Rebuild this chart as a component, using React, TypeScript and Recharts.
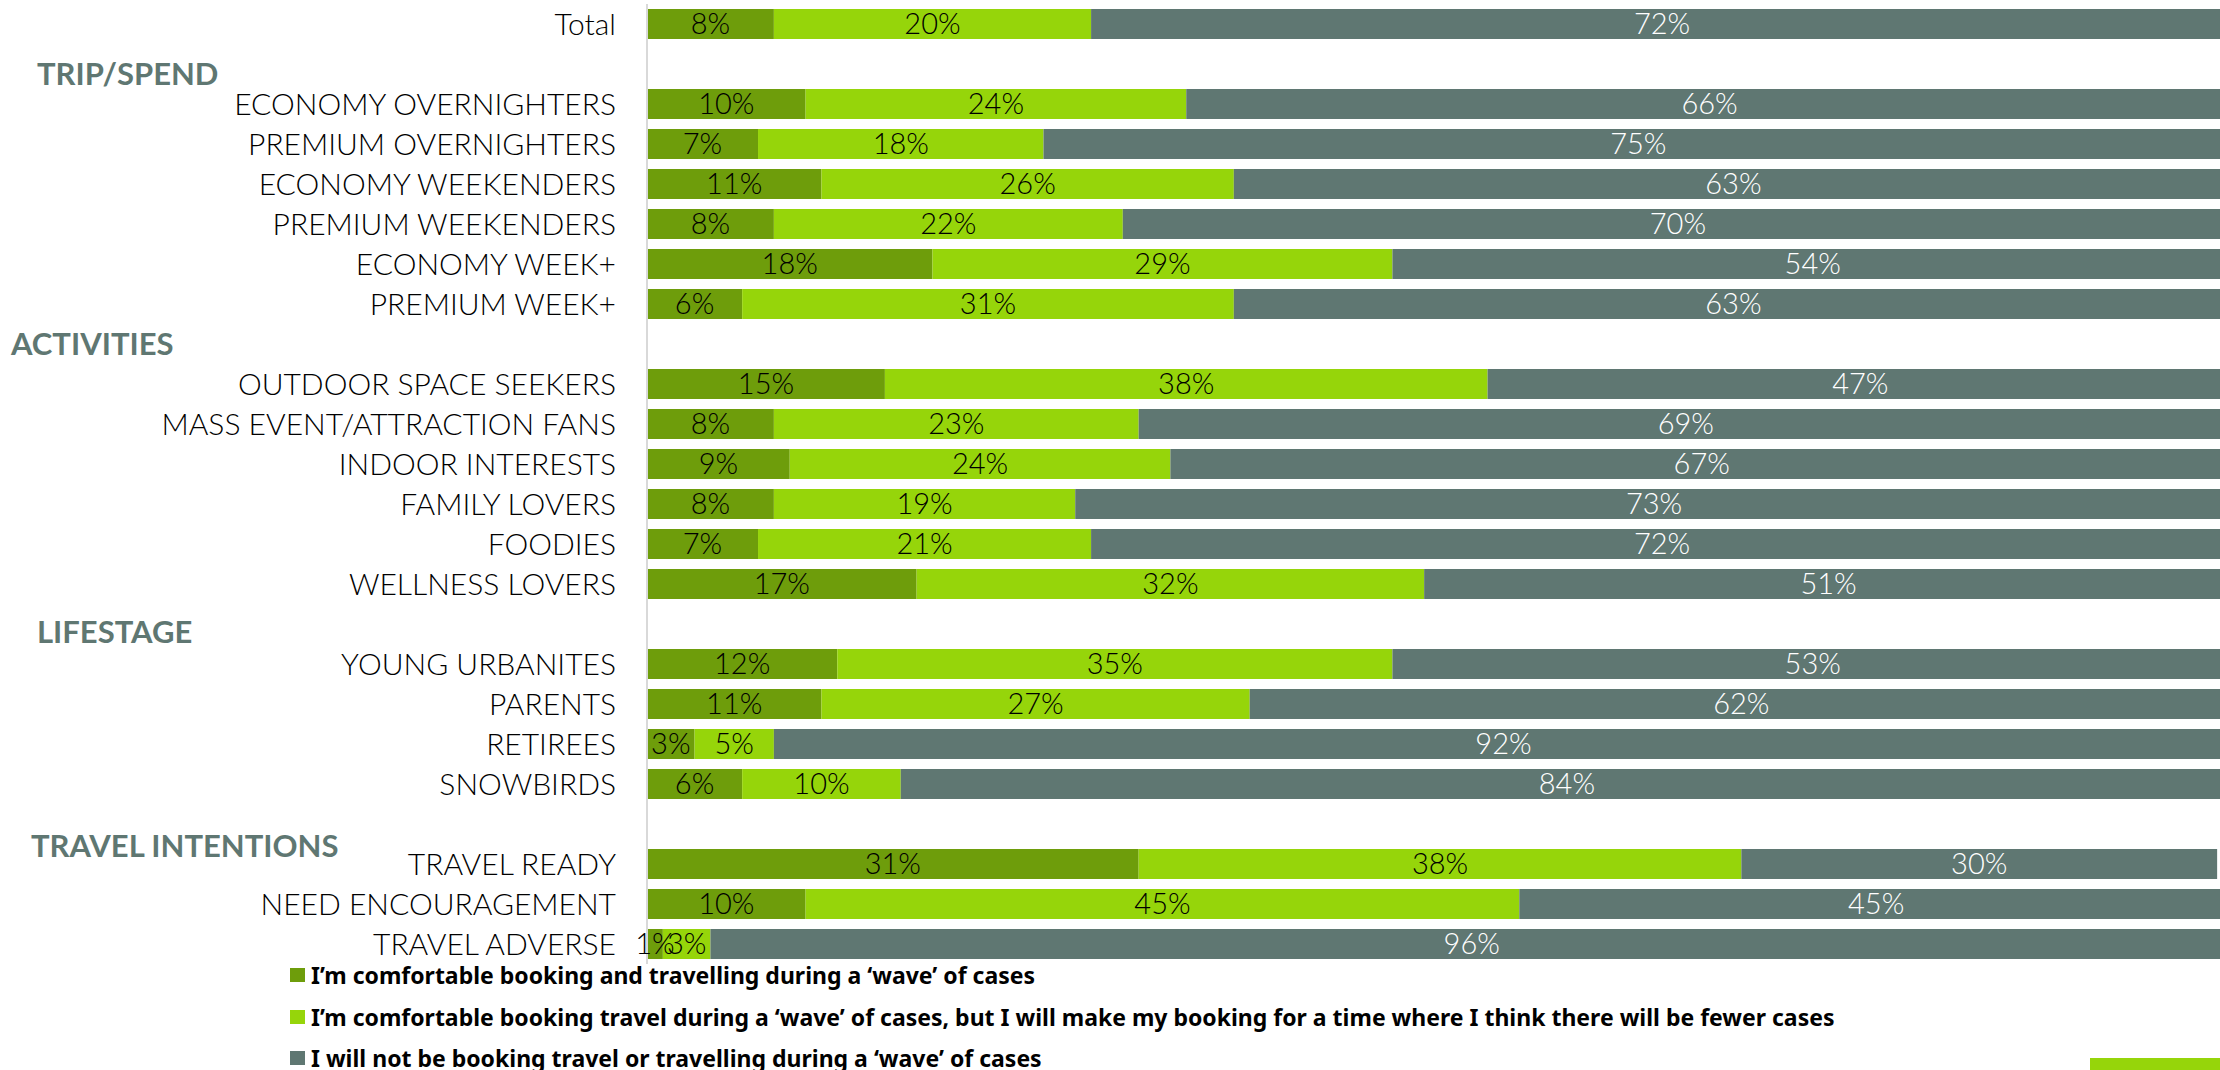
import { Bar, BarChart, LabelList, Legend, XAxis, YAxis } from 'recharts';

const categories = [
  'Total',
  'TRIP/SPEND',
  'ECONOMY OVERNIGHTERS',
  'PREMIUM OVERNIGHTERS',
  'ECONOMY WEEKENDERS',
  'PREMIUM WEEKENDERS',
  'ECONOMY WEEK+',
  'PREMIUM WEEK+',
  'ACTIVITIES',
  'OUTDOOR SPACE SEEKERS',
  'MASS EVENT/ATTRACTION FANS',
  'INDOOR INTERESTS',
  'FAMILY LOVERS',
  'FOODIES',
  'WELLNESS LOVERS',
  'LIFESTAGE',
  'YOUNG URBANITES',
  'PARENTS',
  'RETIREES',
  'SNOWBIRDS',
  'TRAVEL INTENTIONS',
  'TRAVEL READY',
  'NEED ENCOURAGEMENT',
  'TRAVEL ADVERSE',
];

const headings = ['TRIP/SPEND', 'ACTIVITIES', 'LIFESTAGE', 'TRAVEL INTENTIONS'];

const comfortableNow = [8, null, 10, 7, 11, 8, 18, 6, null, 15, 8, 9, 8, 7, 17, null, 12, 11, 3, 6, null, 31, 10, 1];
const comfortableLater = [20, null, 24, 18, 26, 22, 29, 31, null, 38, 23, 24, 19, 21, 32, null, 35, 27, 5, 10, null, 38, 45, 3];
const notBooking = [72, null, 66, 75, 63, 70, 54, 63, null, 47, 69, 67, 73, 72, 51, null, 53, 62, 92, 84, null, 30, 45, 96];

const seriesNames = [
  'I\u2019m comfortable booking and travelling during a \u2018wave\u2019 of cases',
  'I\u2019m comfortable booking travel during a \u2018wave\u2019 of cases, but I will make my booking for a time where I think there will be fewer cases',
  'I will not be booking travel or travelling during a \u2018wave\u2019 of cases',
];

const DARK = '#6e9d0b';
const LIME = '#96d50a';
const GREY = '#5f7772';

const data = categories.map((name, i) => ({
  name,
  now: comfortableNow[i],
  later: comfortableLater[i],
  never: notBooking[i],
}));

const headingPos: Record<string, { x: number; dy: number }> = {
  'TRIP/SPEND': { x: 37, dy: 10 },
  ACTIVITIES: { x: 11, dy: 0 },
  LIFESTAGE: { x: 37, dy: 8 },
  'TRAVEL INTENTIONS': { x: 31, dy: 22 },
};

const labelFont = 'Lato, "Open Sans", sans-serif';

function CategoryTick(props: any) {
  const { x, y, payload } = props;
  const name = payload.value;
  if (headings.includes(name)) {
    const p = headingPos[name];
    return (
      <text x={p.x} y={y + p.dy} dy="0.36em" fill={GREY} fontSize={31} fontWeight={700} fontFamily={labelFont}>
        {name}
      </text>
    );
  }
  return (
    <text x={x} y={y} dy="0.36em" textAnchor="end" fill="#000" fontSize={30} fontWeight={300} fontFamily={labelFont}>
      {name}
    </text>
  );
}

const pct = (v: any) => (v == null ? '' : `${v}%`);

function LegendRows() {
  const colors = [DARK, LIME, GREY];
  return (
    <div style={{ position: 'relative', height: 106 }}>
      {seriesNames.map((s, i) => (
        <div
          key={s}
          style={{
            position: 'absolute',
            left: 0,
            top: i * 41.5 - 4,
            height: 30,
            display: 'flex',
            alignItems: 'center',
            whiteSpace: 'nowrap',
            fontFamily: '"Noto Sans", sans-serif',
            fontWeight: 700,
            fontSize: 23,
            color: '#000',
          }}
        >
          <span style={{ width: 15, height: 14, background: colors[i], marginRight: 6, display: 'inline-block' }} />
          {s}
        </div>
      ))}
    </div>
  );
}

export default function App() {
  return (
    <div style={{ position: 'fixed', left: 0, top: 0, width: 2220, height: 1070, overflow: 'hidden', background: '#fff' }}>
      <BarChart
        width={2240}
        height={1070}
        data={data}
        layout="vertical"
        margin={{ top: 4, right: 7, bottom: 0, left: 0 }}
        barCategoryGap={10}
      >
        <XAxis type="number" domain={[0, 100]} allowDataOverflow hide />
        <YAxis
          type="category"
          dataKey="name"
          width={647}
          interval={0}
          tick={<CategoryTick />}
          tickLine={false}
          tickSize={0}
          tickMargin={31}
          axisLine={{ stroke: '#d9d9d9', strokeWidth: 2 }}
        />
        <Legend
          verticalAlign="bottom"
          align="left"
          height={106}
          wrapperStyle={{ left: 290, width: 1900 }}
          content={() => <LegendRows />}
        />
        <Bar dataKey="now" name={seriesNames[0]} stackId="s" fill={DARK} barSize={30} isAnimationActive={false}>
          <LabelList dataKey="now" position="center" formatter={pct} fill="#000" fontSize={29} fontWeight={300} fontFamily={labelFont} />
        </Bar>
        <Bar dataKey="later" name={seriesNames[1]} stackId="s" fill={LIME} barSize={30} isAnimationActive={false}>
          <LabelList dataKey="later" position="center" formatter={pct} fill="#000" fontSize={29} fontWeight={300} fontFamily={labelFont} />
        </Bar>
        <Bar dataKey="never" name={seriesNames[2]} stackId="s" fill={GREY} barSize={30} isAnimationActive={false}>
          <LabelList dataKey="never" position="center" formatter={pct} fill="#fff" fontSize={29} fontWeight={300} fontFamily={labelFont} />
        </Bar>
      </BarChart>
      <div style={{ position: 'absolute', left: 2090, top: 1058, width: 130, height: 12, background: LIME }} />
    </div>
  );
}
